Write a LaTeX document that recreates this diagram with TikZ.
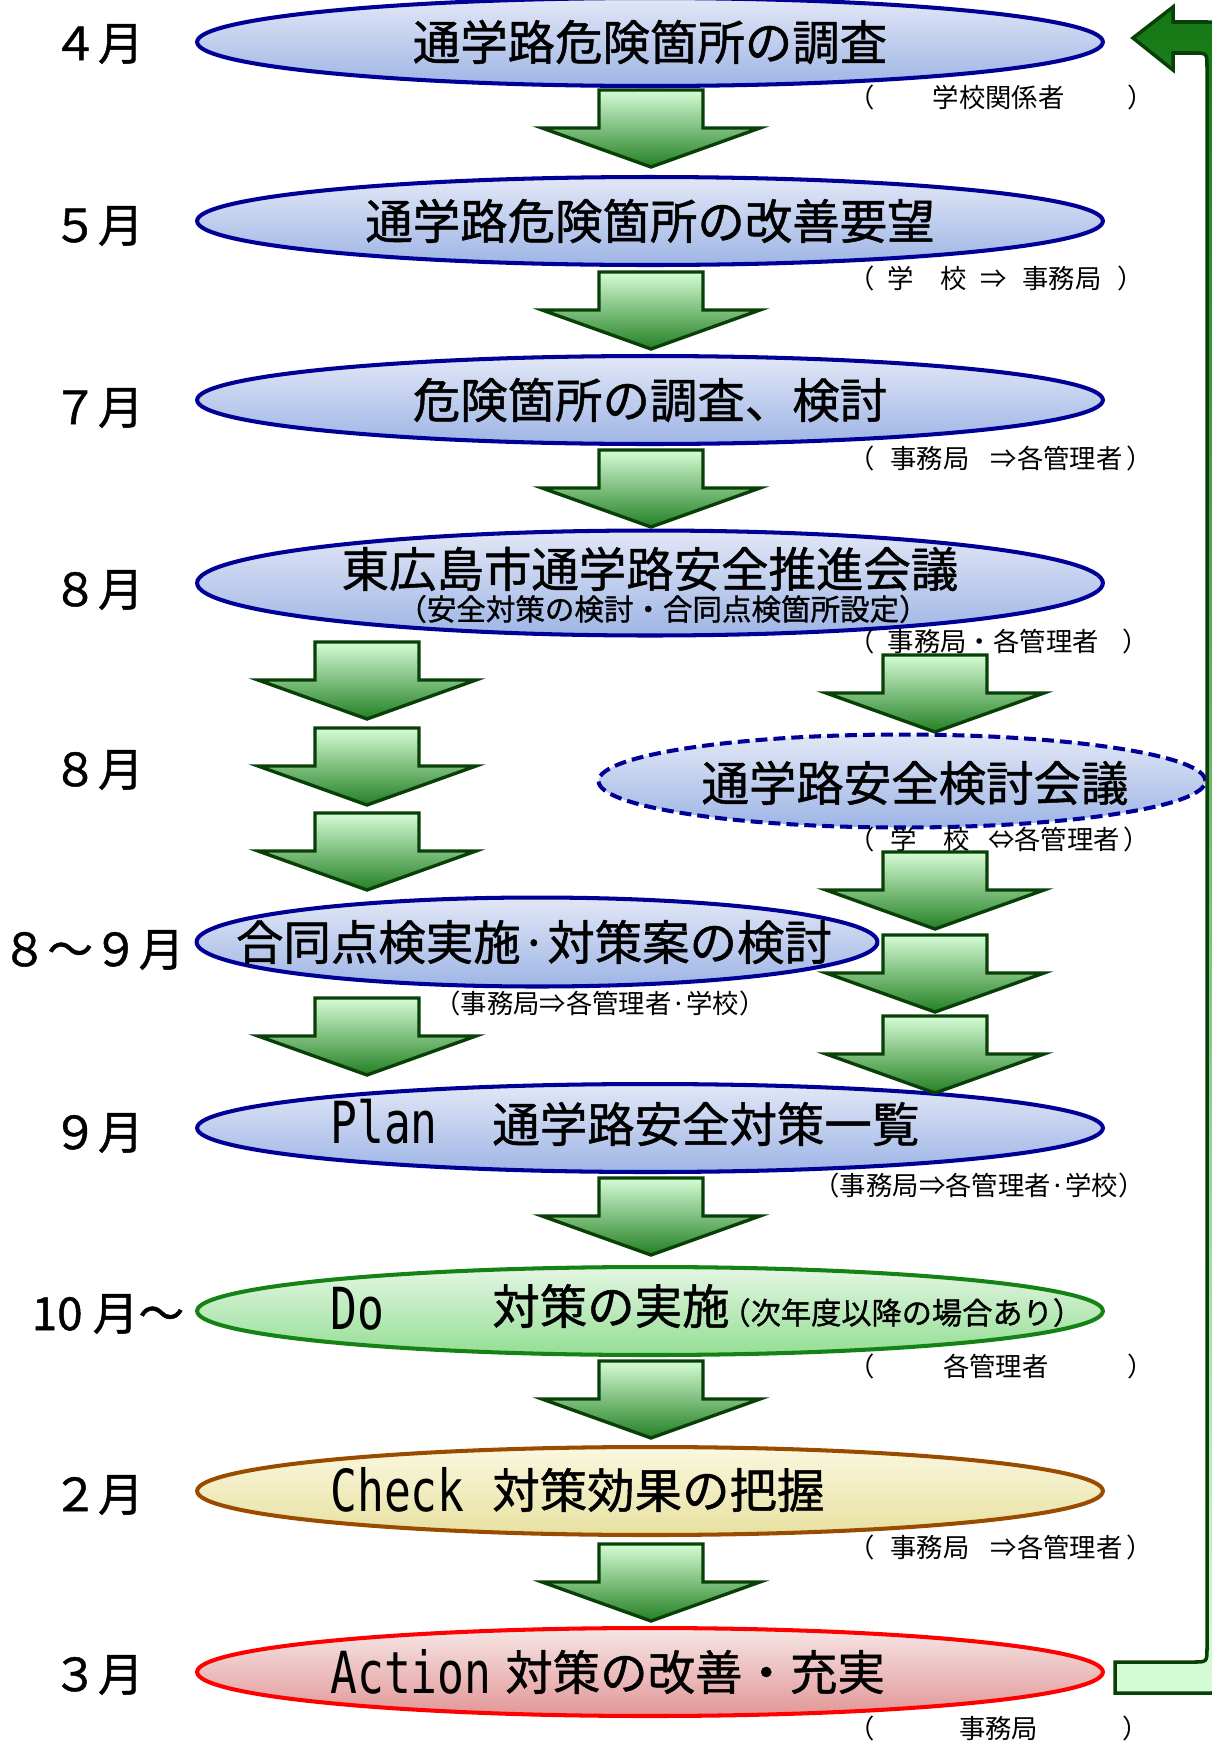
\documentclass[tikz,border=0pt]{standalone}
\usepackage{fontspec}
\setmainfont{Noto Sans CJK JP}
\newfontfamily\jpheavy[FakeBold=1]{Noto Sans CJK JP}
\newfontfamily\pdcafont[FakeStretch=0.77]{DejaVu Sans Mono}
\usetikzlibrary{shapes.geometric}
\definecolor{stageblue}{RGB}{0,0,150}
\definecolor{bluetop}{RGB}{226,231,246}
\definecolor{bluebot}{RGB}{158,181,229}
\definecolor{doline}{RGB}{20,130,20}
\definecolor{dotop}{RGB}{228,246,228}
\definecolor{dobot}{RGB}{148,222,148}
\definecolor{checkline}{RGB}{153,76,0}
\definecolor{checktop}{RGB}{250,248,224}
\definecolor{checkbot}{RGB}{232,224,160}
\definecolor{actline}{RGB}{255,0,0}
\definecolor{acttop}{RGB}{246,230,230}
\definecolor{actbot}{RGB}{226,150,150}
\definecolor{arrowline}{RGB}{8,64,8}
\definecolor{arrowtop}{RGB}{214,252,214}
\definecolor{arrowbot}{RGB}{36,128,36}
\definecolor{backtop}{RGB}{20,120,20}
\definecolor{backbot}{RGB}{214,252,214}
\tikzset{stage/.style={shape=ellipse, inner sep=0pt, line width=2.3pt, minimum width=18.12cm, minimum height=1.76cm}}
\tikzset{bluestage/.style={stage, draw=stageblue, top color=bluetop, bottom color=bluebot}}
\tikzset{dostage/.style={stage, draw=doline, top color=dotop, bottom color=dobot}}
\tikzset{checkstage/.style={stage, draw=checkline, top color=checktop, bottom color=checkbot}}
\tikzset{actstage/.style={stage, draw=actline, top color=acttop, bottom color=actbot}}
\tikzset{maintext/.style={font={\jpheavy\fontsize{27pt}{30pt}\selectfont}, inner sep=0pt}}
\tikzset{subtext/.style={font={\jpheavy\fontsize{16.8pt}{19pt}\selectfont}, inner sep=0pt}}
\tikzset{notetext/.style={font=\fontsize{15pt}{17pt}\selectfont, inner sep=0pt, anchor=west}}
\tikzset{monthtext/.style={font={\jpheavy\fontsize{26pt}{29pt}\selectfont}, inner sep=0pt}}
\tikzset{pdcatext/.style={font={\pdcafont\fontsize{33pt}{36pt}\selectfont}, inner sep=0pt, anchor=west}}
\tikzset{arrowbody/.style={draw=arrowline, line width=1.9pt, top color=arrowtop, bottom color=arrowbot}}
\tikzset{backbody/.style={draw=arrowline, line width=2pt, top color=backtop, bottom color=backbot}}
\tikzset{downarr/.pic={\shade[arrowbody] (-52,0) -- (52,0) -- (52,38) -- (109,38) -- (0,77) -- (-109,38) -- (-52,38) -- cycle;}}

\begin{document}
\begin{tikzpicture}[x=0.02cm, y=-0.02cm]
\useasboundingbox (0,0) rectangle (1212,1742);
\clip (0,0) rectangle (1212,1742);

\node[style=monthtext] (m1) at (98,44) {４月};
\node[style=monthtext] (m2) at (98,226) {５月};
\node[style=monthtext] (m3) at (98,408) {７月};
\node[style=monthtext] (m4) at (98,590) {８月};
\node[style=monthtext] (m5) at (98,770) {８月};
\node[style=monthtext] (m6) at (93,950) {８～９月};
\node[style=monthtext] (m7) at (98,1133) {９月};
\node[style=monthtext] (m8) at (108,1314) {10 月～};
\node[style=monthtext] (m9) at (98,1495) {２月};
\node[style=monthtext] (m10) at (98,1675) {３月};

\node[style=bluestage] (e1) at (650,42) {};
\node[style=maintext] (t1) at (e1) {通学路危険箇所の調査};
\node[style=notetext] (n1) at (848,97) {（\hspace{2.2em}学校関係者\hspace{2.4em}）};

\node[style=bluestage] (e2) at (650,221) {};
\node[style=maintext] (t2) at (e2) {通学路危険箇所の改善要望};
\node[style=notetext] (n2) at (848,278) {（\hspace{.5em}学　校\hspace{.5em}⇒\hspace{.6em}事務局\hspace{.6em}）};

\node[style=bluestage] (e3) at (650,400) {};
\node[style=maintext] (t3) at (e3) {危険箇所の調査、検討};
\node[style=notetext] (n3) at (848,458) {（\hspace{.6em}事務局\hspace{.8em}⇒各管理者\hspace{.15em}）};

\node[style=bluestage, minimum height=2.1cm] (e4) at (650,583) {};
\node[style=maintext] (t4) at (650,569) {東広島市通学路安全推進会議};
\node[style=subtext] (t4s) at (663,609) {（安全対策の検討・合同点検箇所設定）};
\node[style=notetext] (n4) at (848,641) {（\hspace{.5em}事務局・各管理者\hspace{.9em}）};

\node[style=bluestage, dashed, dash pattern=on 6.8pt off 3.4pt, minimum width=12.14cm, minimum height=1.86cm] (e5) at (902,781) {};
\node[style=maintext] (t5) at (915,783) {通学路安全検討会議};
\node[style=notetext] (n5) at (848,839) {（\hspace{.6em}学　校\hspace{.7em}⇔各管理者\hspace{.15em}）};

\node[style=bluestage, minimum width=13.62cm, minimum height=1.78cm] (e6) at (537,942) {};
\node[style=maintext] (t6) at (534,942) {合同点検実施·対策案の検討};
\node[style=notetext, anchor=center] (n6) at (600,1003) {（事務局⇒各管理者·学校）};

\node[style=bluestage] (e7) at (650,1128) {};
\node[style=pdcatext] (p7) at (330,1122) {Plan};
\node[style=maintext, anchor=west] (t7) at (492,1124) {通学路安全対策一覧};
\node[style=notetext, anchor=east] (n7) at (1145,1185) {（事務局⇒各管理者·学校）};

\node[style=dostage] (e8) at (650,1311) {};
\node[style=pdcatext] (p8) at (330,1309) {Do};
\node[style=maintext, anchor=west] (t8) at (492,1306) {対策の実施{\fontsize{17.2pt}{19pt}\selectfont\hspace{-.3em}（次年度以降の場合あり）}};
\node[style=notetext] (n8) at (848,1366) {（\hspace{2.6em}各管理者\hspace{3em}）};

\node[style=checkstage] (e9) at (650,1491) {};
\node[style=pdcatext] (p9) at (330,1490) {Check};
\node[style=maintext, anchor=west] (t9) at (492,1490) {対策効果の把握};
\node[style=notetext] (n9) at (848,1547) {（\hspace{.6em}事務局\hspace{.8em}⇒各管理者\hspace{.15em}）};

\node[style=actstage] (e10) at (650,1672) {};
\node[style=pdcatext] (p10) at (330,1672) {Action};
\node[style=maintext, anchor=west] (t10) at (505,1672) {対策の改善・充実};
\node[style=notetext] (n10) at (848,1728) {（\hspace{3.2em}事務局\hspace{3.2em}）};

\pic (a1) at (651,90) {downarr};
\pic (a2) at (651,272) {downarr};
\pic (a3) at (651,450) {downarr};
\pic (a4) at (651,1178) {downarr};
\pic (a5) at (651,1361) {downarr};
\pic (a6) at (651,1544) {downarr};

\pic (l1) at (367,642) {downarr};
\pic (l2) at (367,728) {downarr};
\pic (l3) at (367,813) {downarr};
\pic (l4) at (367,998) {downarr};

\pic (r1) at (935,655) {downarr};
\pic (r2) at (935,852) {downarr};
\pic (r3) at (935,935) {downarr};
\pic (r4) at (935,1016) {downarr};

\shade[style=backbody] (1115,1662) -- (1193,1662) .. controls (1207,1662) .. (1207,1648) -- (1207,67) .. controls (1207,53) .. (1193,53) -- (1173,53) -- (1173,70) -- (1133,38) -- (1173,7) -- (1173,22) -- (1205,22) .. controls (1238,22) .. (1238,55) -- (1238,1660) .. controls (1238,1693) .. (1205,1693) -- (1115,1693) -- cycle;
\end{tikzpicture}
\end{document}
